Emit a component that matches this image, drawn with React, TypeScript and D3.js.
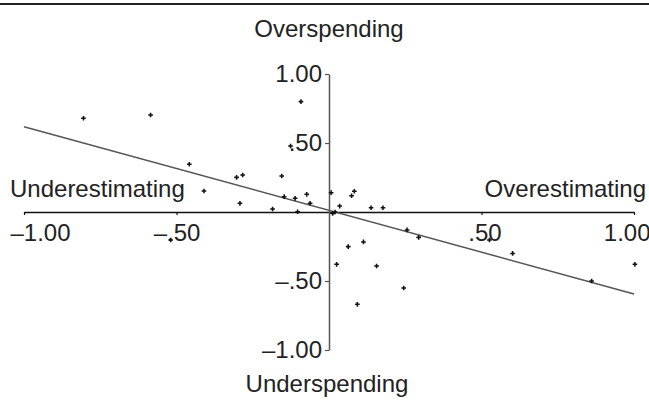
import React, { useEffect, useRef } from "react";
import * as d3 from "d3";

// Estimation error (x) vs spending error (y)
const pointsX: number[] = [
    -0.805, -0.585, -0.092, -0.458, -0.126, -0.41, -0.303, -0.283, -0.155, -0.292,
    -0.185, -0.147, -0.111, -0.073, -0.062, -0.103, -0.519,
    0.007, 0.012, 0.02, 0.035, 0.074, 0.083, 0.138, 0.177, 0.256, 0.294,
    0.063, 0.113, 0.025, 0.156, 0.245, 0.093, 0.526, 0.602, 1.003, 0.861,
];
const pointsY: number[] = [
    0.679, 0.703, 0.8, 0.346, 0.478, 0.152, 0.251, 0.268, 0.261, 0.063,
    0.022, 0.111, 0.099, 0.128, 0.063, 0.002, -0.203,
    0.14, -0.01, 0.0, 0.043, 0.118, 0.15, 0.031, 0.031, -0.13, -0.184,
    -0.251, -0.217, -0.379, -0.391, -0.551, -0.669, -0.203, -0.3, -0.379, -0.5,
];
const fitIntercept = 0.012;
const fitSlope = -0.606;
const xTicks = [-1, -0.5, 0.5, 1];
const yTicks = [-1, -0.5, 0.5, 1];

const fmt = (v: number) => (v < 0 ? "\u2013" : "") + Math.abs(v).toFixed(2).replace(/^0/, "");

export default function App() {
    const ref = useRef<SVGSVGElement>(null);

    useEffect(() => {
        const width = 649;
        const svg = d3.select(ref.current);
        svg.selectAll("*").remove();

        const x = d3.scaleLinear().domain([-1, 1]).range([24, 634]);
        const y = d3.scaleLinear().domain([-1, 1]).range([350, 74]);
        const font = "'Liberation Sans', Arial, sans-serif";
        const fs = 24;

        // top rule
        svg.append("line")
            .attr("x1", 0).attr("x2", width)
            .attr("y1", 4).attr("y2", 4)
            .attr("stroke", "#222").attr("stroke-width", 2);

        // x axis
        const gx = svg.append("g")
            .attr("transform", "translate(0," + y(0) + ")")
            .call(d3.axisBottom(x).tickValues(xTicks).tickSize(3).tickSizeOuter(0).tickFormat(fmt as any) as any);
        gx.select(".domain").attr("stroke", "#111").attr("stroke-width", 1.4);
        gx.selectAll(".tick line").attr("stroke", "#111").attr("stroke-width", 1.2);
        gx.selectAll(".tick text")
            .attr("y", 12)
            .attr("font-family", font).attr("font-size", fs).attr("fill", "#222")
            .attr("text-anchor", (d: any) => (d === -1 ? "start" : d === 1 ? "end" : "middle"))
            .attr("x", (d: any) => (d === -1 ? -14 : d === 1 ? 16 : d === 0.5 ? 3 : 0));

        // y axis
        const gy = svg.append("g")
            .attr("transform", "translate(" + x(0) + ",0)")
            .call(d3.axisLeft(y).tickValues(yTicks).tickSize(4).tickSizeOuter(0).tickFormat(fmt as any) as any);
        gy.select(".domain").attr("stroke", "#555").attr("stroke-width", 1.5);
        gy.selectAll(".tick line").attr("stroke", "#555").attr("stroke-width", 1.2);
        gy.selectAll(".tick text")
            .attr("font-family", font).attr("font-size", fs).attr("fill", "#222");

        // regression line
        const line = d3.line<number>()
            .x(d => x(d))
            .y(d => y(fitIntercept + fitSlope * d));
        svg.append("path")
            .datum([-1, 1])
            .attr("d", line as any)
            .attr("fill", "none")
            .attr("stroke", "#555")
            .attr("stroke-width", 1.5);

        // points
        const sym = d3.symbol().type(d3.symbolCross).size(12);
        svg.append("g")
            .selectAll("path")
            .data(pointsX.map((px, i) => ({ x: px, y: pointsY[i] })))
            .enter()
            .append("path")
            .attr("d", sym as any)
            .attr("transform", d => "translate(" + x(d.x) + "," + y(d.y) + ")")
            .attr("fill", "#111");

        // quadrant labels
        const label = (t: string, lx: number, ly: number, anchor: string) =>
            svg.append("text")
                .attr("x", lx).attr("y", ly)
                .attr("text-anchor", anchor)
                .attr("font-family", font).attr("font-size", fs).attr("fill", "#222")
                .text(t);
        label("Overspending", x(0), 37, "middle");
        label("Underspending", x(0) - 2, 392, "middle");
        label("Underestimating", 10, 197, "start");
        label("Overestimating", 646, 197, "end");
    }, []);

    return (
        <div style={{ position: "absolute", left: 0, top: 0, background: "#fff" }}>
            <svg ref={ref} width={649} height={402} />
        </div>
    );
}
